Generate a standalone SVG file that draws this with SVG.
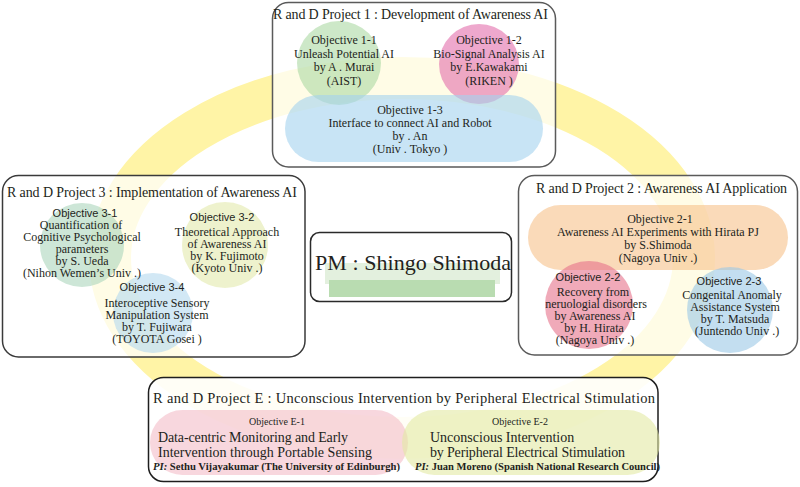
<svg xmlns="http://www.w3.org/2000/svg" width="800" height="487" viewBox="0 0 800 487">
<style>
.box{fill:#ffffff;fill-opacity:0.72;stroke:#5a5a5a;stroke-width:1.5}
.s{font-family:"Liberation Serif","Noto Sans CJK JP",serif;fill:#231f20}
.t{font-size:14px}
.b{font-size:12px;text-anchor:middle}
.o{font-family:"Liberation Sans","Noto Sans CJK JP",sans-serif;font-size:11px;text-anchor:middle;fill:#231f20}
.e{font-size:14px}
.pi{font-size:10px;font-weight:bold}
</style>
<rect width="800" height="487" fill="#ffffff"/>
<g id="ring">
<ellipse cx="402" cy="258" rx="292" ry="180" fill="none" stroke="#fff4a6" stroke-width="42"/>
</g>
<g id="connectors"/>
<g id="project1">
<rect class="box" x="272.5" y="2.5" width="283" height="164.5" rx="16"/>
<circle cx="339" cy="63" r="42" fill="#acd9a3" fill-opacity="0.6"/>
<circle cx="479" cy="64" r="40" fill="#e36eac" fill-opacity="0.6"/>
<rect x="285" y="95" width="258" height="67" rx="33.5" fill="#a3d2ee" fill-opacity="0.6"/>
<text class="s t" x="273" y="19" textLength="275">R and D Project 1 : Development of Awareness AI</text>
<text class="s b" x="344" y="44">Objective 1-1</text>
<text class="s b" x="344" y="57.5">Unleash Potential AI</text>
<text class="s b" x="344" y="71">by A . Murai</text>
<text class="s b" x="344" y="84.5">(AIST)</text>
<text class="s b" x="489" y="44">Objective 1-2</text>
<text class="s b" x="489" y="57.5">Bio-Signal Analysis AI</text>
<text class="s b" x="489" y="71">by E.Kawakami</text>
<text class="s b" x="489" y="84.5">(RIKEN )</text>
<text class="s b" x="410" y="114">Objective 1-3</text>
<text class="s b" x="410" y="127">Interface to connect AI and Robot</text>
<text class="s b" x="410" y="140">by . An</text>
<text class="s b" x="410" y="153">(Univ . Tokyo )</text>
</g>
<g id="project3">
<rect class="box" x="2.5" y="175.5" width="302.5" height="181.5" rx="16" style="stroke:#3a3a3a"/>
<circle cx="82" cy="245" r="42" fill="#acd5bc" fill-opacity="0.6"/>
<circle cx="225" cy="245" r="43" fill="#e3e9ac" fill-opacity="0.6"/>
<circle cx="153" cy="313" r="40" fill="#b4d9ee" fill-opacity="0.6"/>
<text class="s t" x="7" y="197" textLength="290">R and D Project 3 : Implementation of Awareness AI</text>
<text class="o" x="85" y="217">Objective 3-1</text>
<text class="s b" x="81" y="228.5">Quantification of</text>
<text class="s b" x="82" y="241">Cognitive Psychological</text>
<text class="s b" x="82" y="252.5">parameters</text>
<text class="s b" x="82" y="264.5">by S. Ueda</text>
<text class="s b" x="82" y="276.5">(Nihon Wemen’s Univ .)</text>
<text class="o" x="222" y="221">Objective 3-2</text>
<text class="s b" x="227" y="235.5">Theoretical Approach</text>
<text class="s b" x="227" y="247.5">of Awareness AI</text>
<text class="s b" x="227" y="260">by K. Fujimoto</text>
<text class="s b" x="227" y="272">(Kyoto Univ  .)</text>
<text class="o" x="152" y="291">Objective 3-4</text>
<text class="s b" x="157" y="307">Interoceptive Sensory</text>
<text class="s b" x="157" y="319">Manipulation System</text>
<text class="s b" x="157" y="331">by T. Fujiwara</text>
<text class="s b" x="157" y="342.5">(TOYOTA Gosei )</text>
</g>
<g id="project2">
<rect class="box" x="518.5" y="175.5" width="279" height="179.5" rx="16"/>
<rect x="528" y="205" width="260" height="65" rx="32.5" fill="#f7c18a" fill-opacity="0.6"/>
<circle cx="589" cy="305" r="44" fill="#e6718a" fill-opacity="0.6"/>
<circle cx="730" cy="310" r="43" fill="#9bc8e6" fill-opacity="0.6"/>
<text class="s t" x="536" y="193" textLength="251">R and D Project 2 : Awareness AI Application</text>
<text class="s b" x="660" y="223">Objective 2-1</text>
<text class="s b" x="658" y="236">Awareness AI Experiments with Hirata PJ</text>
<text class="s b" x="658" y="249">by S.Shimoda</text>
<text class="s b" x="658" y="261.5">(Nagoya Univ  .)</text>
<text class="o" x="588" y="281">Objective 2-2</text>
<text class="s b" x="593" y="295.5">Recovery from</text>
<text class="s b" x="596" y="307.5">neruologial disorders</text>
<text class="s b" x="595" y="319.5">by Awareness AI</text>
<text class="s b" x="594" y="331.5">by H. Hirata</text>
<text class="s b" x="595" y="343.5">(Nagoya Univ  .)</text>
<text class="o" x="729" y="285">Objective 2-3</text>
<text class="s b" x="732" y="299">Congenital Anomaly</text>
<text class="s b" x="735" y="311">Assistance System</text>
<text class="s b" x="735" y="323">by T. Matsuda</text>
<text class="s b" x="737" y="335">(Juntendo Univ  .)</text>
</g>
<g id="pm">
<rect x="310.5" y="232.5" width="201" height="69" rx="9" fill="#ffffff" stroke="#2a2a2a" stroke-width="1.5"/>
<rect x="325" y="263" width="175" height="21" fill="#e3f0de"/>
<rect x="329" y="280" width="166" height="17" fill="#b9dcb1"/>
<text class="s" x="315" y="270" font-size="22" textLength="196">PM : Shingo Shimoda</text>
</g>
<g id="projectE">
<rect class="box" x="148.5" y="377.5" width="509.5" height="104" rx="15" style="stroke:#1e1e1e;fill-opacity:0.9"/>
<rect x="150" y="410" width="258" height="65" rx="32.5" fill="#f3bcc8" fill-opacity="0.6"/>
<rect x="402" y="410" width="258" height="65" rx="32.5" fill="#e3e9a3" fill-opacity="0.6"/>
<text class="s" x="153" y="403" font-size="14.5" textLength="502">R and D Project E : Unconscious Intervention by  Peripheral Electrical Stimulation</text>
<text class="s" x="277" y="424.5" font-size="10" text-anchor="middle">Objective E-1</text>
<text class="s e" x="158" y="442" textLength="190">Data-centric Monitoring and Early</text>
<text class="s e" x="158" y="457" textLength="214">Intervention through Portable Sensing</text>
<text class="s pi" x="153" y="470" textLength="247" lengthAdjust="spacingAndGlyphs"><tspan font-style="italic">PI:</tspan> Sethu Vijayakumar (The University of Edinburgh)</text>
<text class="s" x="520" y="424.5" font-size="10" text-anchor="middle">Objective E-2</text>
<text class="s e" x="430" y="442">Unconscious Intervention</text>
<text class="s e" x="430" y="457" textLength="195">by Peripheral Electrical Stimulation</text>
<text class="s pi" x="415" y="470" textLength="245" lengthAdjust="spacingAndGlyphs"><tspan font-style="italic">PI:</tspan> Juan Moreno (Spanish National Research Council)</text>
</g>
</svg>
